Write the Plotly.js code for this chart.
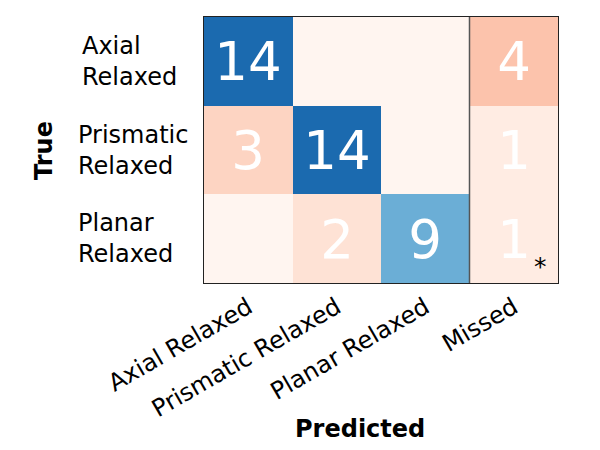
<!DOCTYPE html>
<html>
<head>
<meta charset="utf-8">
<script src="https://cdn.plot.ly/plotly-3.0.1.min.js"></script>
<style>
  html, body { margin: 0; padding: 0; background: white; }
  #chart { width: 600px; height: 450px; }
</style>
</head>
<body>
<div id="chart"></div>
<script>
// Confusion matrix: rows = true class, columns = predicted class (+ missed)
var predLabels = ['Axial Relaxed', 'Prismatic Relaxed', 'Planar Relaxed', 'Missed'];
var trueLabels = ['Axial Relaxed', 'Prismatic Relaxed', 'Planar Relaxed'];
var trueTickText = ['Axial<br>Relaxed', 'Prismatic<br>Relaxed', 'Planar<br>Relaxed'];
var counts = [
  [14, 0, 0, 4],
  [3, 14, 0, 1],
  [0, 2, 9, 1]
];
var colorMax = 18;

// matplotlib Blues / Reds
var blues = [[0, '#f7fbff'], [0.125, '#deebf7'], [0.25, '#c6dbef'], [0.375, '#9ecae1'],
             [0.5, '#6baed6'], [0.625, '#4292c6'], [0.75, '#2171b5'], [0.875, '#08519c'], [1, '#08306b']];
var reds = [[0, '#fff5f0'], [0.125, '#fee0d2'], [0.25, '#fcbba1'], [0.375, '#fc9272'],
            [0.5, '#fb6a4a'], [0.625, '#ef3b2c'], [0.75, '#cb181d'], [0.875, '#a50f15'], [1, '#67000d']];

// split into correct (diagonal) and wrong (off-diagonal) cells
var zDiag = [], zOff = [], txtDiag = [], txtOff = [];
for (var i = 0; i < counts.length; i++) {
  var rd = [], ro = [], td = [], to = [];
  for (var j = 0; j < counts[i].length; j++) {
    var v = counts[i][j];
    var s = v === 0 ? '' : String(v);
    if (i === j) { rd.push(v); ro.push(null); td.push(s); to.push(''); }
    else { rd.push(null); ro.push(v); td.push(''); to.push(s); }
  }
  zDiag.push(rd); zOff.push(ro); txtDiag.push(td); txtOff.push(to);
}

var cellFont = {family: 'DejaVu Sans', size: 53, color: 'white'};

var traces = [
  { type: 'heatmap', x: predLabels, y: trueLabels, z: zOff,
    colorscale: reds, zmin: 0, zmax: colorMax, showscale: false,
    text: txtOff, texttemplate: '%{text}', textfont: cellFont, hoverongaps: false },
  { type: 'heatmap', x: predLabels, y: trueLabels, z: zDiag,
    colorscale: blues, zmin: 0, zmax: colorMax, showscale: false,
    text: txtDiag, texttemplate: '%{text}', textfont: cellFont, hoverongaps: false }
];

var labelFont = {family: 'DejaVu Sans', size: 24, color: 'black'};
var labelShift = [4, 0, 0];

var annotations = trueLabels.map(function (lab, k) {
  return { xref: 'paper', yref: 'y', x: -0.362, y: lab, text: trueTickText[k],
           xanchor: 'left', yanchor: 'middle', align: 'left', showarrow: false,
           xshift: labelShift[k], font: labelFont };
});
annotations.push(
  { xref: 'x', yref: 'y', x: 'Missed', y: 'Planar Relaxed', text: '*',
    showarrow: false, xshift: 27, yshift: -28,
    font: {family: 'DejaVu Sans', size: 25, color: 'black'} },
  { xref: 'paper', yref: 'paper', x: 0.442, y: -0.548, text: '<b>Predicted</b>',
    showarrow: false, xanchor: 'center', yanchor: 'middle',
    font: {family: 'DejaVu Sans', size: 24, color: 'black'} },
  { xref: 'paper', yref: 'paper', x: -0.452, y: 0.5, text: '<b>True</b>',
    showarrow: false, textangle: -90, xanchor: 'center', yanchor: 'middle',
    font: {family: 'DejaVu Sans', size: 24, color: 'black'} }
);

var layout = {
  width: 600, height: 450,
  margin: {l: 204, r: 42, t: 17, b: 167},
  paper_bgcolor: 'white', plot_bgcolor: 'white',
  font: {family: 'DejaVu Sans'},
  xaxis: { type: 'category', tickangle: -30, tickfont: labelFont, ticks: '',
           showline: true, mirror: true, linecolor: '#222', linewidth: 1,
           showgrid: false, zeroline: false },
  yaxis: { type: 'category', autorange: 'reversed', showticklabels: false, ticks: '',
           showline: true, mirror: true, linecolor: '#222', linewidth: 1,
           showgrid: false, zeroline: false },
  shapes: [
    // separator before the "Missed" column
    { type: 'line', xref: 'x', yref: 'paper', x0: 2.5, x1: 2.5, y0: 0, y1: 1,
      line: {color: '#555', width: 1.5} }
  ],
  annotations: annotations,
  showlegend: false
};

Plotly.newPlot('chart', traces, layout, {displayModeBar: false, staticPlot: true});
</script>
</body>
</html>
